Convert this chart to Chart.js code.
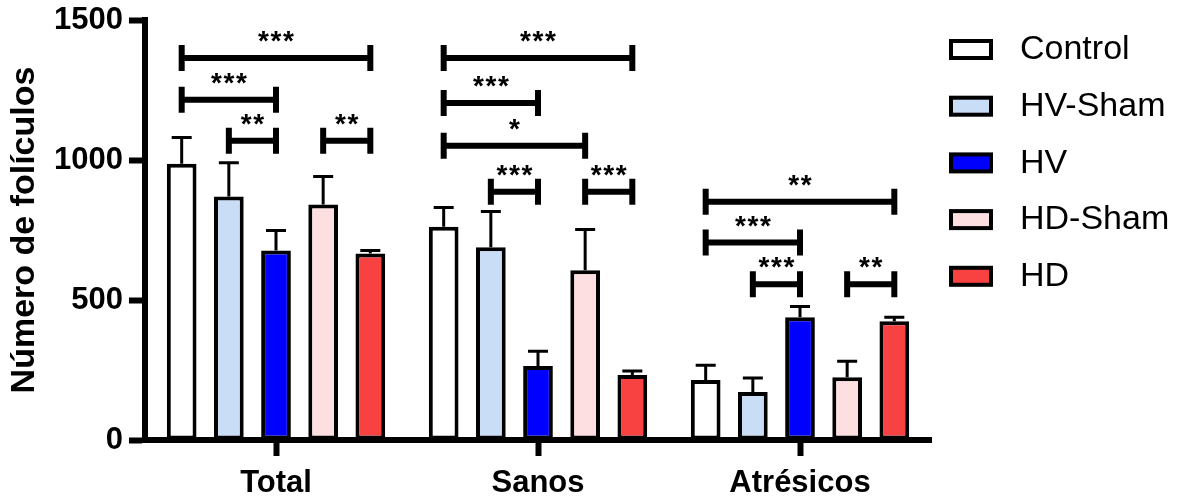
<!DOCTYPE html>
<html>
<head>
<meta charset="utf-8">
<script src="https://cdn.jsdelivr.net/npm/chart.js@4"></script>
<style>
    html, body { margin: 0; padding: 0; background: #fff; }
    #wrap { width: 1178px; height: 499px; }
</style>
</head>
<body>
<div id="wrap"><canvas id="chart_folic"></canvas></div>
<script>
const CATEGORIES = ['Total', 'Sanos', 'Atrésicos'];
const SERIES = ['Control', 'HV-Sham', 'HV', 'HD-Sham', 'HD'];
const COLORS = ['#ffffff', '#c9ddf6', '#0000ff', '#fddfe1', '#f84242'];

// media y error (solo barra superior) por grupo
const control = [987, 762, 214];
const controlErr = [93, 68, 53];
const hvSham = [870, 688, 171];
const hvShamErr = [120, 128, 50];
const hv = [677, 264, 438];
const hvErr = [71, 53, 39];
const hdSham = [841, 606, 224];
const hdShamErr = [100, 146, 57];
const hd = [666, 232, 424];
const hdErr = [11, 14, 14];

const Y_TICKS = [0, 500, 1000, 1500];

// [categoria, serie desde, serie hasta, altura, etiqueta]
const BRACKETS = [
    [0, 0, 4, 1364, '***'],
    [0, 0, 2, 1215, '***'],
    [0, 1, 2, 1069, '**'],
    [0, 3, 4, 1069, '**'],
    [1, 0, 4, 1364, '***'],
    [1, 0, 2, 1204, '***'],
    [1, 0, 3, 1051, '*'],
    [1, 1, 2, 887, '***'],
    [1, 3, 4, 887, '***'],
    [2, 0, 4, 851, '**'],
    [2, 0, 2, 705, '***'],
    [2, 1, 2, 556, '***'],
    [2, 3, 4, 556, '**']
];

const FONT = "'Liberation Sans', Arial, sans-serif";
const values = [control, hvSham, hv, hdSham, hd];
const errors = [controlErr, hvShamErr, hvErr, hdShamErr, hdErr];

var errorBars = {
    id: 'errorBars',
    afterDatasetsDraw(chart) {
        const ctx = chart.ctx;
        const y = chart.scales.y;
        ctx.save();
        ctx.strokeStyle = '#000';
        ctx.lineWidth = 3;
        chart.data.datasets.forEach(function (ds, i) {
            chart.getDatasetMeta(i).data.forEach(function (bar, j) {
                var top = y.getPixelForValue(ds.data[j] + errors[i][j]);
                ctx.beginPath();
                ctx.moveTo(bar.x, bar.y);
                ctx.lineTo(bar.x, top);
                ctx.moveTo(bar.x - 10, top);
                ctx.lineTo(bar.x + 10, top);
                ctx.stroke();
            });
        });
        // significancia
        ctx.lineWidth = 6;
        ctx.fillStyle = '#000';
        ctx.font = 'bold 28px ' + FONT;
        ctx.textAlign = 'center';
        ctx.textBaseline = 'alphabetic';
        BRACKETS.forEach(function (b) {
            var x1 = chart.getDatasetMeta(b[1]).data[b[0]].x;
            var x2 = chart.getDatasetMeta(b[2]).data[b[0]].x;
            var py = y.getPixelForValue(b[3]);
            ctx.beginPath();
            ctx.moveTo(x1, py);
            ctx.lineTo(x2, py);
            ctx.moveTo(x1, py - 13);
            ctx.lineTo(x1, py + 13);
            ctx.moveTo(x2, py - 13);
            ctx.lineTo(x2, py + 13);
            ctx.stroke();
            var n = b[4].length;
            var mid = (x1 + x2) / 2;
            for (var k = 0; k < n; k++) {
                ctx.fillText('*', mid + (k - (n - 1) / 2) * 12.5, py - 8);
            }
        });
        ctx.restore();
    }
};

var sideLegend = {
    id: 'sideLegend',
    afterDraw(chart) {
        const ctx = chart.ctx;
        ctx.save();
        ctx.font = '34px ' + FONT;
        ctx.textBaseline = 'middle';
        ctx.textAlign = 'left';
        chart.data.datasets.forEach(function (ds, i) {
            var cy = 49 + i * 56.7;
            ctx.fillStyle = ds.backgroundColor;
            ctx.fillRect(951, cy - 8, 40, 17);
            ctx.lineWidth = 4;
            ctx.strokeStyle = '#000';
            ctx.strokeRect(951, cy - 8, 40, 17);
            ctx.fillStyle = '#000';
            ctx.fillText(ds.label, 1020, cy + 1);
        });
        ctx.restore();
    }
};

var ctx = document.getElementById('chart_folic');
var folicChart = new Chart(ctx, {
    type: 'bar',
    data: {
        labels: CATEGORIES,
        datasets: SERIES.map(function (name, i) {
            return {
                label: name,
                data: values[i],
                backgroundColor: COLORS[i],
                borderColor: '#000',
                borderWidth: 4,
                borderSkipped: false,
                categoryPercentage: 0.9,
                barPercentage: 0.63
            };
        })
    },
    options: {
        responsive: true,
        maintainAspectRatio: false,
        animation: false,
        layout: { padding: { top: 20, right: 247, left: 0, bottom: 0 } },
        plugins: {
            legend: { display: false },
            tooltip: { enabled: false }
        },
        scales: {
            x: {
                z: 1,
                afterFit: function (s) { s.height = 59; },
                grid: {
                    offset: false,
                    drawOnChartArea: false,
                    tickLength: 16,
                    tickWidth: 6,
                    tickColor: '#000'
                },
                border: { color: '#000', width: 6 },
                ticks: {
                    color: '#000',
                    padding: 9,
                    font: { family: FONT, size: 31, weight: 'bold' }
                }
            },
            y: {
                z: 1,
                min: 0,
                max: 1500,
                afterFit: function (s) {
                    s.width = 145;
                    s.paddingTop = 0;
                    s.paddingBottom = 0;
                },
                afterBuildTicks: function (s) {
                    s.ticks = Y_TICKS.map(function (v) { return { value: v }; });
                },
                grid: {
                    drawOnChartArea: false,
                    tickLength: 16,
                    tickWidth: 6,
                    tickColor: '#000'
                },
                border: { color: '#000', width: 6 },
                ticks: {
                    color: '#000',
                    padding: 6,
                    callback: function (v) { return String(v); },
                    font: { family: FONT, size: 31, weight: 'bold' }
                },
                title: {
                    display: true,
                    text: 'Número de folículos',
                    color: '#000',
                    padding: { top: 4, bottom: 0 },
                    font: { family: FONT, size: 34, weight: 'bold' }
                }
            }
        }
    },
    plugins: [errorBars, sideLegend]
});
</script>
</body>
</html>
